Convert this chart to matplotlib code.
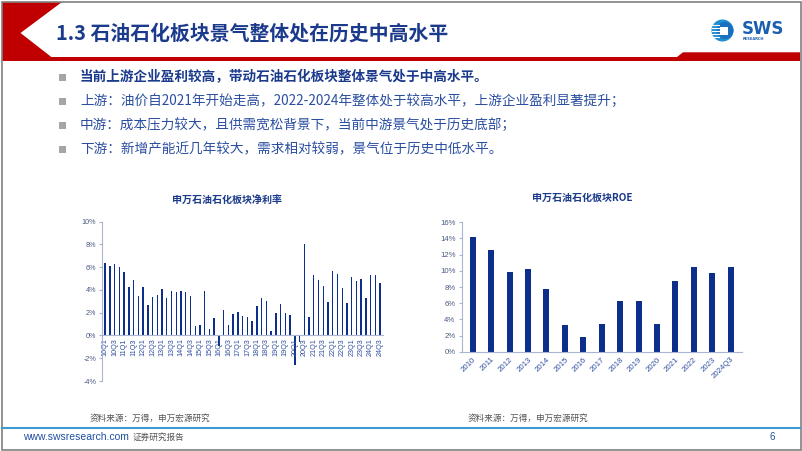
import matplotlib
matplotlib.use("Agg")
import matplotlib.pyplot as plt
from matplotlib.patches import Polygon, Rectangle, Circle
import numpy as np

plt.rcParams['font.family'] = ['Noto Sans CJK SC', 'DejaVu Sans']

# ---- data ----
years_q = ['10', '11', '12', '13', '14', '15', '16', '17', '18', '19', '20', '21', '22', '23', '24']
quarters = [y + 'Q' + str(q) for y in years_q for q in (1, 2, 3, 4)][:59]
net_margin = [6.35, 6.1, 6.3, 6.05, 5.6, 4.3, 4.85, 3.45, 4.25, 2.65, 3.35, 3.55,
              4.05, 3.3, 3.9, 3.85, 3.9, 3.8, 3.45, 0.8, 0.9, 3.95, 0.6, 1.5,
              -0.9, 2.2, 0.95, 1.85, 2.1, 1.7, 1.65, 1.25, 2.6, 3.3, 3.0, 0.4,
              1.95, 2.75, 1.95, 1.8, -2.55, -0.6, 8.05, 1.65, 5.3, 4.85, 4.35, 2.95,
              5.65, 5.4, 4.2, 2.85, 5.1, 4.75, 4.95, 3.3, 5.3, 5.3, 4.6]
roe_years = ['2010', '2011', '2012', '2013', '2014', '2015', '2016', '2017',
             '2018', '2019', '2020', '2021', '2022', '2023', '2024Q3']
roe = [14.2, 12.6, 9.85, 10.2, 7.7, 3.25, 1.85, 3.4, 6.25, 6.25, 3.4, 8.7, 10.5, 9.7, 10.45]

title = '1.3 石油石化板块景气整体处在历史中高水平'
bullets = ['当前上游企业盈利较高，带动石油石化板块整体景气处于中高水平。',
           '上游：油价自2021年开始走高，2022-2024年整体处于较高水平，上游企业盈利显著提升；',
           '中游：成本压力较大，且供需宽松背景下，当前中游景气处于历史底部；',
           '下游：新增产能近几年较大，需求相对较弱，景气位于历史中低水平。']
source = '资料来源：万得，申万宏源研究'

W, H = 802, 451
fig = plt.figure(figsize=(W / 100, H / 100), dpi=100)
fig.patch.set_facecolor('white')

# background layer in pixel coordinates
bg = fig.add_axes([0, 0, 1, 1])
bg.set_xlim(0, W)
bg.set_ylim(H, 0)
bg.axis('off')

red = '#c00000'
bg.add_patch(Polygon([(2, 2), (62, 2), (20.5, 33), (52, 57.5), (2, 57.5)], closed=True, color=red, lw=0))
bg.add_patch(Rectangle((2, 57.3), 798, 3.7, color=red, lw=0))
bg.add_patch(Polygon([(672, 61), (683, 52.3), (800, 52.3), (800, 61)], closed=True, color=red, lw=0))
bg.add_patch(Rectangle((1.5, 1.5), W - 3, H - 3, fill=False, ec='#808080', lw=1.2))

bg.text(56, 33, title, fontsize=14.3, fontweight='bold', color='#1b3a8c', va='center', ha='left')

# logo
bg.add_patch(Circle((722.5, 30.5), 11, color='#1e8fd2', lw=0))
bg.add_patch(Circle((725, 30.5), 8.5, color='#1b6fc0', lw=0))
for yy in (25, 28, 31, 34, 37):
    bg.plot([712, 719], [yy, yy], color='white', lw=0.8)
bg.add_patch(Rectangle((719.5, 26.5), 8, 8, color='white', lw=0))
bg.text(742, 29, 'SWS', fontsize=12, fontweight='bold', color='#1a5fb0',
        family='DejaVu Sans', va='center', ha='left')
bg.text(743, 38.5, 'RESEARCH', fontsize=2.6, fontweight='bold', color='#1a5fb0',
        family='DejaVu Sans', va='center', ha='left')

# bullets
for i, txt in enumerate(bullets):
    y = 77 + i * 24
    bg.add_patch(Rectangle((58.5, y - 3.5), 7, 7, color='#a6a6a6', lw=0))
    bg.text(80, y, txt, fontsize=9.8, color='#1b3a8c' if i == 0 else '#2a4ea0',
            fontweight='bold' if i == 0 else 'normal', va='center', ha='left')

# footer
bg.plot([2, 800], [428, 428], color='#3d9bd1', lw=1.5)
bg.text(23, 437.5, 'www.swsresearch.com', fontsize=7.5, color='#1f4fa0',
        family='Liberation Sans', va='center', ha='left')
bg.text(133, 437, '证券研究报告', fontsize=6.2, color='#555555', va='center', ha='left')
bg.text(772, 437.5, '6', fontsize=7, color='#1f4fa0', family='Liberation Sans', va='center', ha='center')
bg.text(90, 418, source, fontsize=6.2, color='#555555', va='center', ha='left')
bg.text(468, 418, source, fontsize=6.2, color='#555555', va='center', ha='left')

bg.text(227, 200, '申万石油石化板块净利率', fontsize=7.2, fontweight='bold', color='#1b3a8c', ha='center', va='center')
bg.text(582, 198, '申万石油石化板块ROE', fontsize=7.2, fontweight='bold', color='#1b3a8c', ha='center', va='center')

bar_color = '#0b2f8a'
spine_c = '#a9b6d3'
tick_font = 'Liberation Sans'


def px_axes(x0, x1, ytop, ybot):
    return fig.add_axes([x0 / W, 1 - ybot / H, (x1 - x0) / W, (ybot - ytop) / H])


# left chart: net margin
ax1 = px_axes(102.3, 383, 221.7, 381)
for s in ('top', 'right'):
    ax1.spines[s].set_visible(False)
ax1.spines['bottom'].set_position(('data', 0))
ax1.spines['left'].set_color(spine_c)
ax1.spines['bottom'].set_color(spine_c)
x1 = np.arange(len(quarters))
ax1.bar(x1, net_margin, width=0.3, color=bar_color)
ax1.set_xlim(-0.6, len(quarters) - 0.4)
ax1.set_ylim(-4, 10)
ax1.set_yticks(np.arange(-4, 11, 2))
ax1.set_yticklabels([f'{v}%' for v in range(-4, 11, 2)])
ax1.set_xticks(x1[::2])
ax1.set_xticklabels(quarters[::2])
ax1.patch.set_alpha(0)
ax1.tick_params(axis='y', length=2.5, color=spine_c, labelsize=5.2, labelcolor='#4a5a80', pad=2)
ax1.tick_params(axis='x', length=0, labelsize=5.2, labelcolor='#2f4fa0', pad=2, labelrotation=90)
for lab in ax1.get_xticklabels() + ax1.get_yticklabels():
    lab.set_family(tick_font)

# right chart: ROE
ax2 = px_axes(461.7, 741.7, 222.3, 351.7)
x2 = np.arange(len(roe_years))
ax2.bar(x2, roe, width=0.33, color=bar_color)
ax2.set_xlim(-0.6, len(roe_years) - 0.4)
ax2.set_ylim(0, 16)
ax2.set_yticks(np.arange(0, 17, 2))
ax2.set_yticklabels([f'{v}%' for v in range(0, 17, 2)])
ax2.set_xticks(x2)
ax2.set_xticklabels(roe_years, rotation=45, ha='right', rotation_mode='anchor')
for s in ('top', 'right'):
    ax2.spines[s].set_visible(False)
ax2.spines['left'].set_color(spine_c)
ax2.spines['bottom'].set_color(spine_c)
ax2.patch.set_alpha(0)
ax2.tick_params(axis='y', length=2.5, color=spine_c, labelsize=5.6, labelcolor='#4a5a80', pad=2)
ax2.tick_params(axis='x', length=0, labelsize=5.6, labelcolor='#2f4fa0', pad=3)
for lab in ax2.get_xticklabels() + ax2.get_yticklabels():
    lab.set_family(tick_font)

fig.savefig('out.png', dpi=100)
